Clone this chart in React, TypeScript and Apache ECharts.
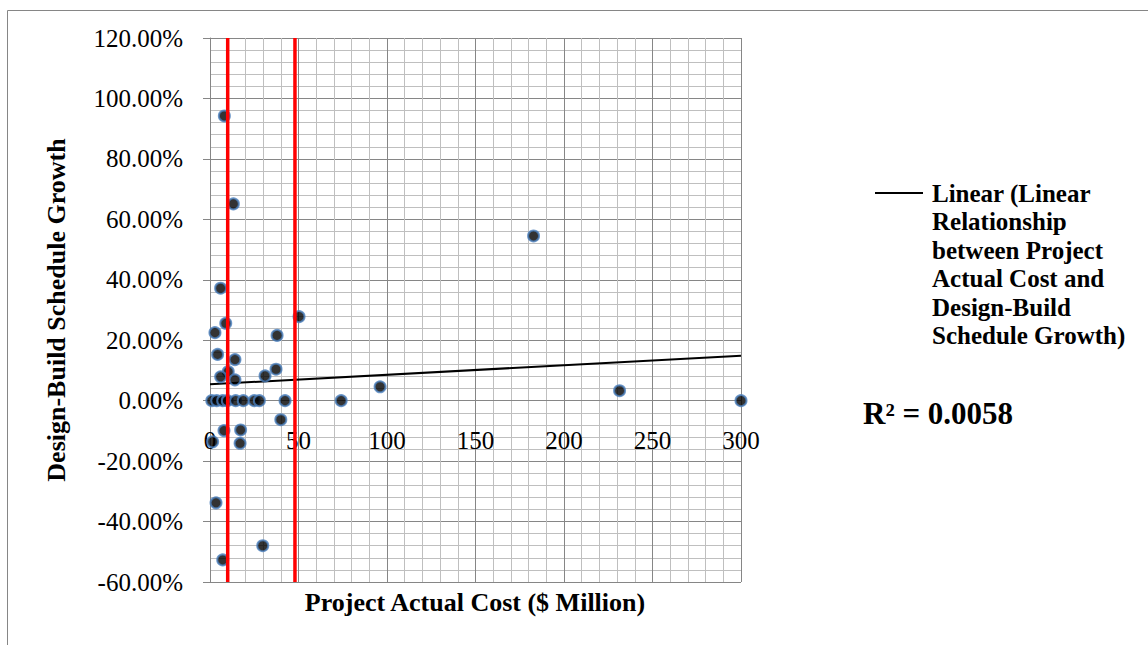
import React, { useEffect, useRef } from "react";
import * as echarts from "echarts";

// Project actual cost ($ Million)
const costs = [
  8.1, 13.2, 6.0, 50.3, 8.9, 2.8, 37.9, 4.3, 14.1, 10.3, 37.3, 6.0, 14.1, 31.1,
  1.0, 3.8, 7.2, 9.8, 14.5, 18.8, 25.0, 27.9, 42.4,
  40.0, 7.9, 17.3, 1.5, 17.0, 3.4, 29.8, 7.2,
  74.1, 96.1, 182.8, 231.4, 300,
];
// Design-Build schedule growth (%)
const growth = [
  94.2, 65.1, 37.2, 27.8, 25.6, 22.5, 21.6, 15.3, 13.6, 9.6, 10.4, 7.9, 6.9, 8.2,
  0, 0, 0, 0, 0, 0, 0, 0, 0,
  -6.3, -9.9, -9.7, -13.6, -14.1, -33.8, -48.0, -52.7,
  0, 4.6, 54.5, 3.3, 0,
];
// Linear trend line end points
const trendX = [0, 300];
const trendY = [5.4, 14.9];
// Red vertical reference lines (cost)
const redLineX = [10, 48];
const yRange = [-60, 120];

const legendText =
  "Linear (Linear\nRelationship\nbetween Project\nActual Cost and\nDesign-Build\nSchedule Growth)";
const r2Text = "R² = 0.0058";
const xTitle = "Project Actual Cost ($ Million)";
const yTitle = "Design-Build Schedule Growth";

const FAMILY = "Liberation Serif";
const FONT = "'Liberation Serif', serif";

const GRID_TOP = 38;
const GRID_BOTTOM = 63;
const PLOT_H = 645 - GRID_TOP - GRID_BOTTOM;

export default function App() {
  const ref = useRef<HTMLDivElement>(null);
  useEffect(() => {
    if (!ref.current) return;
    const chart = echarts.init(ref.current, undefined, { renderer: "svg" });
    const scatterData = costs.map((c, i) => [c, growth[i]]);
    const trendData = trendX.map((x, i) => [x, trendY[i]]);
    const redSeries = redLineX.map((x, i) => ({
      type: "line",
      name: "ref" + i,
      data: [
        [x, yRange[0]],
        [x, yRange[1]],
      ],
      symbol: "none",
      lineStyle: { color: "#ff0000", width: 3.5 },
      z: 10,
      silent: true,
    }));
    // place the x axis where y = 0 (as the reference's axis crosses at zero)
    const zeroOffset = -(PLOT_H * (0 - yRange[0])) / (yRange[1] - yRange[0]);
    chart.setOption({
      animation: false,
      backgroundColor: "#ffffff",
      textStyle: { fontFamily: FAMILY },
      grid: { left: 210, right: 407, top: GRID_TOP, bottom: GRID_BOTTOM, containLabel: false },
      xAxis: {
        type: "value",
        min: 0,
        max: 300,
        interval: 50,
        position: "bottom",
        offset: zeroOffset,
        axisLine: { show: true, onZero: false, lineStyle: { color: "#868686", width: 1 } },
        axisTick: { show: true, length: 6, lineStyle: { color: "#868686" } },
        axisLabel: { fontSize: 25, fontFamily: FAMILY, color: "#000", margin: 27 },
        splitLine: { show: true, lineStyle: { color: "#868686", width: 1 } },
        minorTick: { show: false, splitNumber: 5 },
        minorSplitLine: { show: true, lineStyle: { color: "#bfbfbf", width: 1 } },
      },
      yAxis: {
        type: "value",
        min: yRange[0],
        max: yRange[1],
        interval: 20,
        axisLine: { show: true, onZero: false, lineStyle: { color: "#868686", width: 1 } },
        axisTick: { show: true, length: 7, lineStyle: { color: "#868686" } },
        axisLabel: {
          fontSize: 25,
          fontFamily: FAMILY,
          color: "#000",
          margin: 27,
          formatter: (v: number) => v.toFixed(2) + "%",
        },
        splitLine: { show: true, lineStyle: { color: "#868686", width: 1 } },
        minorTick: { show: false, splitNumber: 5 },
        minorSplitLine: { show: true, lineStyle: { color: "#bfbfbf", width: 1 } },
      },
      series: [
        {
          type: "line",
          name: "Linear (Linear Relationship between Project Actual Cost and Design-Build Schedule Growth)",
          data: trendData,
          symbol: "none",
          lineStyle: { color: "#000", width: 2 },
          z: 3,
          silent: true,
        },
        {
          type: "scatter",
          name: "Design-Build Schedule Growth",
          data: scatterData,
          symbol: "circle",
          symbolSize: 11,
          itemStyle: { color: "#000", borderColor: "#4a7ebb", borderWidth: 2 },
          z: 5,
        },
        ...redSeries,
      ],
      graphic: [
        {
          type: "rect",
          shape: { x: 7.5, y: 10.5, width: 1300, height: 800 },
          style: { fill: "none", stroke: "#868686", lineWidth: 1 },
          silent: true,
          z: -1,
        },
        {
          type: "text",
          x: 56,
          y: 310,
          rotation: Math.PI / 2,
          style: {
            text: yTitle,
            font: `bold 26px ${FONT}`,
            fill: "#000",
            textAlign: "center",
            textVerticalAlign: "middle",
          },
        },
        {
          type: "text",
          x: 475,
          y: 602,
          style: {
            text: xTitle,
            font: `bold 26px ${FONT}`,
            fill: "#000",
            textAlign: "center",
            textVerticalAlign: "middle",
          },
        },
        {
          type: "line",
          shape: { x1: 875, y1: 193, x2: 923, y2: 193 },
          style: { stroke: "#000", lineWidth: 2 },
        },
        {
          type: "text",
          x: 932,
          y: 179,
          style: {
            text: legendText,
            font: `bold 25px ${FONT}`,
            lineHeight: 28.5,
            fill: "#000",
            textAlign: "left",
            textVerticalAlign: "top",
          },
        },
        {
          type: "text",
          x: 863,
          y: 413,
          style: {
            text: r2Text,
            font: `bold 31px ${FONT}`,
            fill: "#000",
            textAlign: "left",
            textVerticalAlign: "middle",
          },
        },
      ],
    });
    return () => chart.dispose();
  }, []);
  return (
    <div
      ref={ref}
      style={{ position: "fixed", left: 0, top: 0, width: 1148, height: 645, background: "#fff" }}
    />
  );
}
